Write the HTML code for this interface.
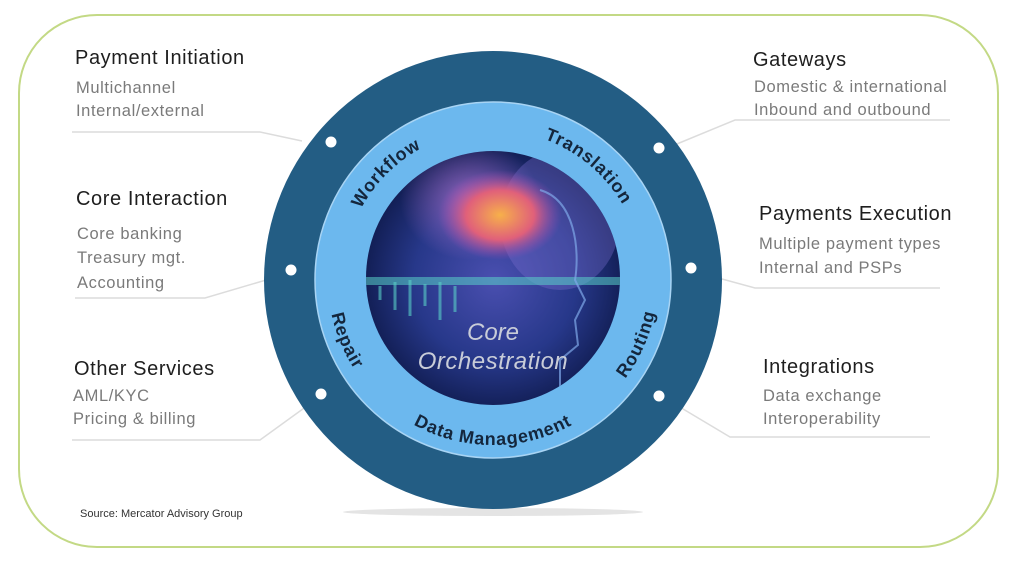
<!DOCTYPE html>
<html><head><meta charset="utf-8"><style>
html,body{margin:0;padding:0;background:#fff;}
svg{display:block;}
.h{font-family:"Liberation Sans",sans-serif;font-size:20px;fill:#1e1e1e;letter-spacing:0.6px;}
.s{font-family:"Liberation Sans",sans-serif;font-size:16.5px;fill:#7a7a7a;letter-spacing:0.6px;}
.r{font-family:"Liberation Sans",sans-serif;font-size:18px;fill:#14263c;letter-spacing:0.8px;font-weight:bold;}
</style></head><body>
<svg width="1024" height="569" viewBox="0 0 1024 569" xmlns="http://www.w3.org/2000/svg">
<defs>
<radialGradient id="bg" cx="50%" cy="50%" r="50%">
<stop offset="0" stop-color="#4a4fb0"/><stop offset="0.6" stop-color="#27388a"/><stop offset="1" stop-color="#101c50"/>
</radialGradient>
<radialGradient id="brain" cx="50%" cy="50%" r="50%">
<stop offset="0" stop-color="#f7b04a"/><stop offset="0.55" stop-color="#e0607a"/><stop offset="1" stop-color="#9a4bb8" stop-opacity="0"/>
</radialGradient>
<radialGradient id="glow" cx="50%" cy="50%" r="50%">
<stop offset="0" stop-color="#c07ad8" stop-opacity="0.7"/><stop offset="1" stop-color="#c07ad8" stop-opacity="0"/>
</radialGradient>
<path id="pw" d="M345.3,253.9 A150,150 0 0 1 466.9,132.3"/>
<path id="pt" d="M506.1,130.6 A150,150 0 0 1 637.9,241.2"/>
<path id="pr" d="M575.5,422.9 A165,165 0 0 0 654.4,245.7"/>
<path id="pd" d="M366.6,386.1 A165,165 0 0 0 619.4,386.1"/>
<path id="pp" d="M337.9,223.6 A165,165 0 0 0 423.3,429.5"/>
<clipPath id="cc"><circle cx="493" cy="278" r="127"/></clipPath>
</defs>
<rect x="19" y="15" width="979" height="532" rx="78" fill="#fff" stroke="#c3d985" stroke-width="2"/>
<g stroke="#dcdcdc" stroke-width="1.5" fill="none">
<polyline points="72,132 260,132 302,141"/>
<polyline points="75,298 205,298 283,275"/>
<polyline points="72,440 260,440 318,398"/>
<polyline points="950,120 735,120 672,146"/>
<polyline points="940,288 755,288 700,273"/>
<polyline points="930,437 730,437 668,400"/>
</g>
<ellipse cx="493" cy="512" rx="150" ry="4" fill="#e4e4e4"/>
<circle cx="493" cy="280" r="229" fill="#235d84"/>
<circle cx="493" cy="280" r="178" fill="#6cb8ee" stroke="#a8d4f4" stroke-width="1.5"/>
<g clip-path="url(#cc)">
<rect x="360" y="145" width="270" height="270" fill="url(#bg)"/>
<ellipse cx="470" cy="200" rx="70" ry="60" fill="url(#glow)"/>
<ellipse cx="560" cy="220" rx="60" ry="70" fill="#7a70d0" opacity="0.35"/>
<ellipse cx="500" cy="215" rx="62" ry="45" fill="url(#brain)"/>
<rect x="360" y="277" width="260" height="8" fill="#5ad0c8" opacity="0.55"/>
<path d="M380,286 L380,300 M395,282 L395,310 M410,280 L410,316 M425,284 L425,306 M440,282 L440,320 M455,286 L455,312" stroke="#5ad0c8" stroke-width="3" opacity="0.6"/>
<path d="M540,190 C575,200 580,250 575,280 L585,300 L575,320 L578,345 L560,360 L560,410" stroke="#7fa8e8" stroke-width="2" fill="none" opacity="0.7"/>
</g>
<text x="493" y="340" text-anchor="middle" font-family="Liberation Sans,sans-serif" font-size="24" font-style="italic" fill="#c8ccd8">Core</text>
<text x="493" y="369" text-anchor="middle" font-family="Liberation Sans,sans-serif" font-size="24" font-style="italic" fill="#c8ccd8" letter-spacing="0.5">Orchestration</text>
<text class="r"><textPath href="#pw" startOffset="50%" text-anchor="middle">Workflow</textPath></text>
<text class="r"><textPath href="#pt" startOffset="50%" text-anchor="middle">Translation</textPath></text>
<text class="r"><textPath href="#pr" startOffset="50%" text-anchor="middle">Routing</textPath></text>
<text class="r"><textPath href="#pd" startOffset="50%" text-anchor="middle">Data Management</textPath></text>
<text class="r"><textPath href="#pp" startOffset="50%" text-anchor="middle">Repair</textPath></text>
<g fill="#fff">
<circle cx="331" cy="142" r="5.5"/><circle cx="291" cy="270" r="5.5"/><circle cx="321" cy="394" r="5.5"/>
<circle cx="659" cy="148" r="5.5"/><circle cx="691" cy="268" r="5.5"/><circle cx="659" cy="396" r="5.5"/>
</g>
<text class="h" x="75" y="64">Payment Initiation</text>
<text class="s" x="76" y="93">Multichannel</text>
<text class="s" x="76" y="116">Internal/external</text>
<text class="h" x="76" y="205">Core Interaction</text>
<text class="s" x="77" y="239">Core banking</text>
<text class="s" x="77" y="263">Treasury mgt.</text>
<text class="s" x="77" y="288">Accounting</text>
<text class="h" x="74" y="375">Other Services</text>
<text class="s" x="73" y="401">AML/KYC</text>
<text class="s" x="73" y="424">Pricing &amp; billing</text>
<text class="h" x="753" y="66">Gateways</text>
<text class="s" x="754" y="92">Domestic &amp; international</text>
<text class="s" x="754" y="115">Inbound and outbound</text>
<text class="h" x="759" y="220">Payments Execution</text>
<text class="s" x="759" y="249">Multiple payment types</text>
<text class="s" x="759" y="273">Internal and PSPs</text>
<text class="h" x="763" y="373">Integrations</text>
<text class="s" x="763" y="401">Data exchange</text>
<text class="s" x="763" y="424">Interoperability</text>
<text x="80" y="517" font-family="Liberation Sans,sans-serif" font-size="11" fill="#333">Source: Mercator Advisory Group</text>
</svg>
</body></html>
